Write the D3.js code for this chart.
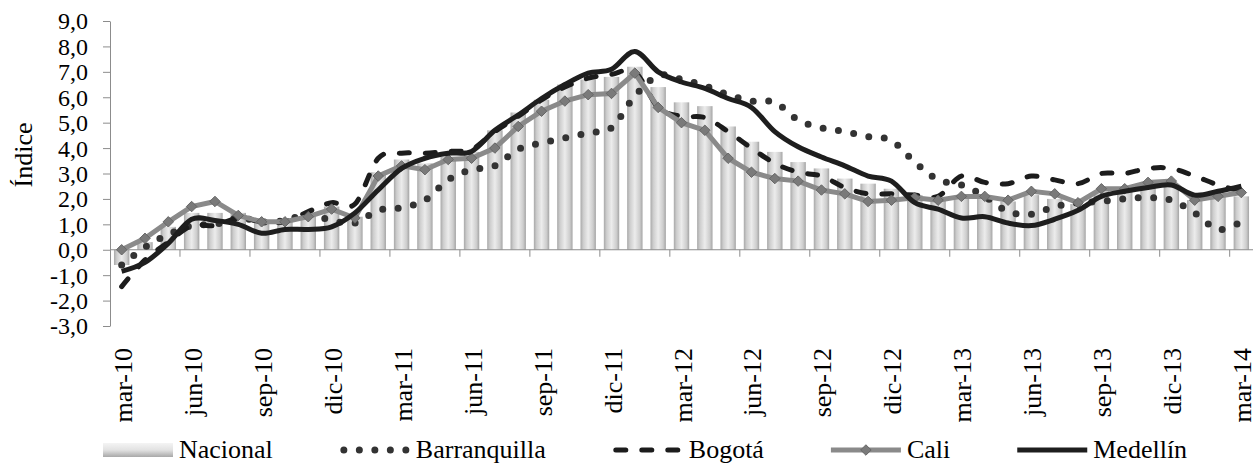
<!DOCTYPE html>
<html>
<head>
<meta charset="utf-8">
<script src="https://cdn.jsdelivr.net/npm/d3@7"></script>
<style>
  body { margin: 0; background: #fff; }
</style>
</head>
<body>
<svg width="1260" height="464"></svg>
<script>
const months = [
  'mar-10', 'abr-10', 'may-10', 'jun-10', 'jul-10', 'ago-10', 'sep-10', 'oct-10', 'nov-10', 'dic-10',
  'ene-11', 'feb-11', 'mar-11', 'abr-11', 'may-11', 'jun-11', 'jul-11', 'ago-11', 'sep-11', 'oct-11', 'nov-11', 'dic-11',
  'ene-12', 'feb-12', 'mar-12', 'abr-12', 'may-12', 'jun-12', 'jul-12', 'ago-12', 'sep-12', 'oct-12', 'nov-12', 'dic-12',
  'ene-13', 'feb-13', 'mar-13', 'abr-13', 'may-13', 'jun-13', 'jul-13', 'ago-13', 'sep-13', 'oct-13', 'nov-13', 'dic-13',
  'ene-14', 'feb-14', 'mar-14'
];

const nacional = [-0.6, 0.3, 0.9, 1.45, 1.45, 1.45, 1.05, 1.1, 1.3, 1.7, 1.3, 3.05, 3.55, 3.4, 3.65, 3.85,
  4.7, 5.4, 5.9, 6.5, 6.7, 6.8, 7.2, 6.4, 5.8, 5.65, 4.85, 4.25, 3.85, 3.45, 3.2, 2.8, 2.6, 2.4, 2.15, 2.05,
  2.05, 2.1, 1.9, 2.15, 2.0, 1.8, 2.3, 2.3, 2.5, 2.5, 1.95, 2.1, 2.1];

const barranquilla = [-0.6, 0.1, 0.6, 0.95, 1.0, 1.25, 1.1, 1.15, 1.4, 1.15, 1.05, 1.55, 1.65, 1.95, 2.75, 3.15,
  3.3, 3.95, 4.2, 4.4, 4.6, 4.8, 6.05, 6.85, 6.7, 6.45, 6.1, 5.85, 5.8, 5.1, 4.8, 4.65, 4.45, 4.3, 3.45, 2.75,
  2.55, 2.1, 1.5, 1.4, 1.7, 1.85, 1.9, 2.0, 2.05, 1.95, 1.45, 0.8, 1.1];

const bogota = [-1.45, -0.4, 0.3, 0.95, 0.95, 1.25, 1.1, 1.1, 1.5, 1.85, 1.8, 3.6, 3.8, 3.8, 3.87, 3.95,
  4.65, 5.25, 5.9, 6.4, 6.75, 6.9, 7.0, 5.6, 5.25, 5.2, 4.65, 4.0, 3.4, 3.05, 2.9, 2.45, 2.2, 2.2, 2.15, 2.1,
  2.9, 2.65, 2.6, 2.9, 2.75, 2.6, 3.0, 3.0, 3.2, 3.2, 2.9, 2.55, 2.3];

const cali = [0.0, 0.45, 1.1, 1.7, 1.9, 1.35, 1.1, 1.1, 1.3, 1.6, 1.25, 2.9, 3.3, 3.15, 3.55, 3.6,
  4.0, 4.85, 5.45, 5.85, 6.1, 6.15, 6.95, 5.6, 5.0, 4.7, 3.6, 3.05, 2.8, 2.7, 2.35, 2.2, 1.9, 1.95, 2.05, 1.95,
  2.1, 2.1, 1.95, 2.3, 2.2, 1.85, 2.4, 2.4, 2.65, 2.7, 1.95, 2.1, 2.25];

const medellin = [-0.85, -0.5, 0.25, 1.2, 1.15, 1.0, 0.65, 0.8, 0.8, 0.9, 1.45, 2.35, 3.2, 3.6, 3.8, 3.87,
  4.7, 5.3, 5.95, 6.5, 6.95, 7.1, 7.8, 7.0, 6.6, 6.35, 5.95, 5.6, 4.65, 4.05, 3.65, 3.3, 2.9, 2.7, 1.85, 1.6,
  1.25, 1.3, 1.05, 0.95, 1.2, 1.55, 2.1, 2.3, 2.45, 2.55, 2.15, 2.3, 2.5];

const yTicks = [-3, -2, -1, 0, 1, 2, 3, 4, 5, 6, 7, 8, 9];

const FONT = '"Liberation Serif"';
const svg = d3.select('svg');
const locale = d3.formatLocale({ decimal: ',', thousands: '.', grouping: [3], currency: ['$', ''], minus: '-' });
const fmt = locale.format('.1f');

const x = d3.scaleBand().domain(months).range([110, 1253]).padding(0);
const y = d3.scaleLinear().domain([-3, 9]).range([326, 21]);
const step = x.step();
const cx = (m) => x(m) + step / 2;

// gradients
const defs = svg.append('defs');
let g1 = defs.append('linearGradient').attr('id', 'barGrad').attr('x1', 0).attr('x2', 1).attr('y1', 0).attr('y2', 0);
[[0, '#a8a8a8'], [0.18, '#cdcdcd'], [0.5, '#ececec'], [0.82, '#cdcdcd'], [1, '#a4a4a4']].forEach(([o, c]) =>
  g1.append('stop').attr('offset', o).attr('stop-color', c));
let g2 = defs.append('linearGradient').attr('id', 'legGrad').attr('x1', 0).attr('x2', 0).attr('y1', 0).attr('y2', 1);
[[0, '#f4f4f4'], [0.5, '#e2e2e2'], [1, '#a8a8a8']].forEach(([o, c]) =>
  g2.append('stop').attr('offset', o).attr('stop-color', c));

// bars
svg.append('g')
  .selectAll('rect')
  .data(nacional)
  .join('rect')
  .attr('x', (d, i) => x(months[i]) + step * 0.17)
  .attr('width', step * 0.66)
  .attr('y', (d) => y(Math.max(0, d)))
  .attr('height', (d) => Math.abs(y(d) - y(0)))
  .attr('fill', 'url(#barGrad)');

// y axis
const yAxis = d3.axisLeft(y).tickValues(yTicks).tickSize(7).tickSizeOuter(0).tickPadding(15).tickFormat(fmt);
const ya = svg.append('g').attr('transform', 'translate(110,0)').call(yAxis);
ya.select('.domain').attr('stroke', '#8c8c8c');
ya.selectAll('.tick line').attr('stroke', '#8c8c8c');
ya.selectAll('.tick text').attr('fill', '#000').attr('dy', '0.33em').style('font-size', '24px');

// x axis
const xa = svg.append('g');
xa.append('line')
  .attr('x1', x.range()[0]).attr('x2', x.range()[1])
  .attr('y1', y(0)).attr('y2', y(0))
  .attr('stroke', '#8c8c8c');
const shown = months.filter((m, i) => i % 3 === 0);
xa.selectAll('line.tk')
  .data(shown.slice(1))
  .join('line')
  .attr('class', 'tk')
  .attr('x1', (m) => x(m)).attr('x2', (m) => x(m))
  .attr('y1', y(0)).attr('y2', y(0) + 7)
  .attr('stroke', '#8c8c8c');
xa.selectAll('text')
  .data(shown)
  .join('text')
  .attr('transform', (m) => `translate(${cx(m) + 10},348) rotate(-90)`)
  .attr('text-anchor', 'end')
  .style('font-size', '26px')
  .text((m) => m);

// y title
svg.append('text')
  .attr('transform', 'translate(32,155) rotate(-90)')
  .attr('text-anchor', 'middle')
  .style('font-size', '26px')
  .text('Índice');

const smooth = d3.line().x((d, i) => cx(months[i])).y((d) => y(d)).curve(d3.curveCatmullRom.alpha(0));
const straight = d3.line().x((d, i) => cx(months[i])).y((d) => y(d));

svg.append('path').datum(barranquilla).attr('d', smooth)
  .attr('fill', 'none').attr('stroke', '#333').attr('stroke-width', 7)
  .attr('stroke-dasharray', '0 15.5').attr('stroke-linecap', 'round');

svg.append('path').datum(bogota).attr('d', smooth)
  .attr('fill', 'none').attr('stroke', '#1c1c1c').attr('stroke-width', 5)
  .attr('stroke-dasharray', '10 16').attr('stroke-linecap', 'round');

svg.append('path').datum(cali).attr('d', straight)
  .attr('fill', 'none').attr('stroke', '#8a8a8a').attr('stroke-width', 5);

const diamond = d3.symbol().type(d3.symbolDiamond2).size(70);
svg.append('g').selectAll('path')
  .data(cali)
  .join('path')
  .attr('transform', (d, i) => `translate(${cx(months[i])},${y(d)})`)
  .attr('d', diamond)
  .attr('fill', '#7a7a7a').attr('stroke', '#666').attr('stroke-width', 1);

svg.append('path').datum(medellin).attr('d', smooth)
  .attr('fill', 'none').attr('stroke', '#1e1e1e').attr('stroke-width', 5);

// legend
const legendItems = ['Nacional', 'Barranquilla', 'Bogotá', 'Cali', 'Medellín'];
const leg = svg.append('g');
let lx = 103;
const ly = 450;
legendItems.forEach((name, i) => {
  const sym = leg.append('g');
  if (i === 0) {
    sym.append('rect').attr('x', lx).attr('y', ly - 7).attr('width', 70).attr('height', 14).attr('fill', 'url(#legGrad)');
  } else if (i === 1) {
    sym.append('line').attr('x1', lx + 4).attr('x2', lx + 70).attr('y1', ly).attr('y2', ly)
      .attr('stroke', '#333').attr('stroke-width', 7).attr('stroke-dasharray', '0 15.5').attr('stroke-linecap', 'round');
  } else if (i === 2) {
    sym.append('line').attr('x1', lx + 3).attr('x2', lx + 70).attr('y1', ly).attr('y2', ly)
      .attr('stroke', '#1c1c1c').attr('stroke-width', 5).attr('stroke-dasharray', '10 16').attr('stroke-linecap', 'round');
  } else if (i === 3) {
    sym.append('line').attr('x1', lx).attr('x2', lx + 70).attr('y1', ly).attr('y2', ly)
      .attr('stroke', '#8a8a8a').attr('stroke-width', 5);
    sym.append('path').attr('transform', `translate(${lx + 35},${ly})`).attr('d', diamond)
      .attr('fill', '#7a7a7a').attr('stroke', '#666');
  } else {
    sym.append('line').attr('x1', lx).attr('x2', lx + 70).attr('y1', ly).attr('y2', ly)
      .attr('stroke', '#1e1e1e').attr('stroke-width', 5);
  }
  const t = leg.append('text').attr('x', lx + 76).attr('y', 458)
    .style('font-family', FONT).style('font-size', '26px').text(name);
  lx += 76 + t.node().getComputedTextLength() + 67;
});

svg.selectAll('text').style('font-family', FONT);
</script>
</body>
</html>
